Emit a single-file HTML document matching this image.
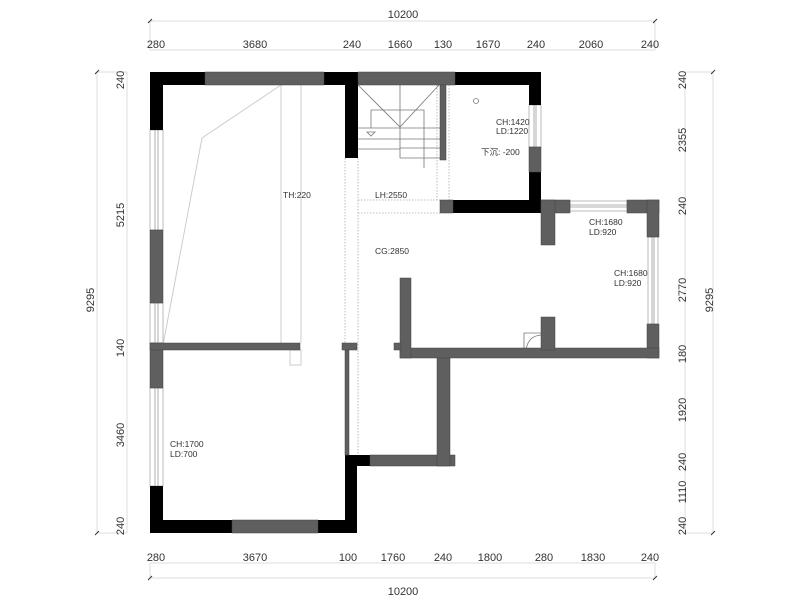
<!DOCTYPE html>
<html><head><meta charset="utf-8"><style>
html,body{margin:0;padding:0;background:#fff;}
svg{display:block;}
text{font-family:"Liberation Sans","Noto Sans CJK SC",sans-serif;fill:#333;}
.d{font-size:11px;fill:#444;}
.l{font-size:8.5px;fill:#222;font-family:"Liberation Sans Narrow","Liberation Sans","Noto Sans CJK SC",sans-serif;}
</style></head><body>
<svg width="800" height="600" viewBox="0 0 800 600" xmlns="http://www.w3.org/2000/svg">
<!-- dimension lines -->
<g stroke="#ddd" stroke-width="1" fill="none">
<line x1="150" y1="21" x2="655" y2="21"/>
<line x1="150" y1="50" x2="655" y2="50"/>
<line x1="150" y1="563" x2="655" y2="563"/>
<line x1="150" y1="578" x2="655" y2="578"/>
<line x1="97" y1="72" x2="97" y2="533"/>
<line x1="127" y1="72" x2="127" y2="533"/>
<line x1="685" y1="72" x2="685" y2="533"/>
<line x1="713" y1="72" x2="713" y2="533"/>
<line x1="97" y1="72" x2="127" y2="72"/>
<line x1="97" y1="533" x2="127" y2="533"/>
<line x1="685" y1="72" x2="713" y2="72"/>
<line x1="685" y1="533" x2="713" y2="533"/>
<line x1="150" y1="21" x2="150" y2="50"/>
<line x1="655" y1="21" x2="655" y2="50"/>
<line x1="150" y1="563" x2="150" y2="578"/>
<line x1="655" y1="563" x2="655" y2="578"/>
</g>
<g stroke="#333" stroke-width="1">
<line x1="148" y1="23" x2="152" y2="19"/><line x1="653" y1="23" x2="657" y2="19"/>
<line x1="148" y1="580" x2="152" y2="576"/><line x1="653" y1="580" x2="657" y2="576"/>
<line x1="95" y1="74" x2="99" y2="70"/><line x1="95" y1="535" x2="99" y2="531"/>
<line x1="711" y1="74" x2="715" y2="70"/><line x1="711" y1="535" x2="715" y2="531"/>
</g>
<g class="d" text-anchor="middle">
<text x="403" y="18">10200</text>
<text x="156" y="48">280</text><text x="255" y="48">3680</text><text x="352" y="48">240</text>
<text x="400" y="48">1660</text><text x="443" y="48">130</text><text x="488" y="48">1670</text>
<text x="536" y="48">240</text><text x="591" y="48">2060</text><text x="650" y="48">240</text>
<text x="156" y="561">280</text><text x="255" y="561">3670</text><text x="348" y="561">100</text>
<text x="393" y="561">1760</text><text x="443" y="561">240</text><text x="490" y="561">1800</text>
<text x="544" y="561">280</text><text x="593" y="561">1830</text><text x="650" y="561">240</text>
<text x="403" y="595">10200</text>
<text transform="translate(124,80) rotate(-90)">240</text>
<text transform="translate(124,215) rotate(-90)">5215</text>
<text transform="translate(124,348) rotate(-90)">140</text>
<text transform="translate(124,435) rotate(-90)">3460</text>
<text transform="translate(124,526) rotate(-90)">240</text>
<text transform="translate(94,300) rotate(-90)">9295</text>
<text transform="translate(686,80) rotate(-90)">240</text>
<text transform="translate(686,140) rotate(-90)">2355</text>
<text transform="translate(686,206) rotate(-90)">240</text>
<text transform="translate(686,290) rotate(-90)">2770</text>
<text transform="translate(686,354) rotate(-90)">180</text>
<text transform="translate(686,410) rotate(-90)">1920</text>
<text transform="translate(686,462) rotate(-90)">240</text>
<text transform="translate(686,492) rotate(-90)">1110</text>
<text transform="translate(686,526) rotate(-90)">240</text>
<text transform="translate(713,300) rotate(-90)">9295</text>
</g>
<!-- light lines left room -->
<g stroke="#ccc" stroke-width="1" fill="none">
<line x1="281" y1="85" x2="281" y2="343"/>
<line x1="301" y1="85" x2="301" y2="343"/>
<polyline points="281,85 202,138 163,345"/>
<rect x="290" y="350" width="11" height="15"/>
</g>
<!-- windows -->
<g stroke="#bbb" stroke-width="1" fill="#fff">
<rect x="150" y="130" width="13" height="100"/><rect x="150" y="303" width="13" height="40"/><rect x="150" y="388" width="13" height="98"/>
<rect x="529" y="105" width="12" height="42"/>
<rect x="570" y="201" width="57" height="10"/>
<rect x="648" y="237" width="10" height="87"/>
</g>
<g stroke="#999" stroke-width="0.8">
<line x1="155" y1="130" x2="155" y2="230"/><line x1="158" y1="130" x2="158" y2="230"/>
<line x1="155" y1="303" x2="155" y2="343"/><line x1="158" y1="303" x2="158" y2="343"/>
<line x1="155" y1="388" x2="155" y2="486"/><line x1="158" y1="388" x2="158" y2="486"/>
<line x1="534" y1="105" x2="534" y2="147"/><line x1="536" y1="105" x2="536" y2="147"/>
<line x1="570" y1="205" x2="627" y2="205"/><line x1="570" y1="207" x2="627" y2="207"/>
<line x1="652" y1="237" x2="652" y2="324"/><line x1="654" y1="237" x2="654" y2="324"/>
</g>
<!-- dotted lines -->
<g stroke="#aaa" stroke-width="0.8" stroke-dasharray="1.5,1.5" fill="none">
<line x1="345" y1="158" x2="345" y2="343"/>
<line x1="358" y1="158" x2="358" y2="455"/>
<line x1="358" y1="200" x2="440" y2="200"/>
<line x1="358" y1="213" x2="440" y2="213"/>
<line x1="437" y1="85" x2="437" y2="200"/>
<line x1="449" y1="85" x2="449" y2="200"/>
</g>
<!-- stairs -->
<g stroke="#777" stroke-width="0.8" fill="none">
<polyline points="358,85 400,127 439,85"/>
<line x1="400" y1="85" x2="400" y2="158"/>
<polyline points="371,128 371,110 424,110 424,168"/>
<line x1="358" y1="128" x2="440" y2="128"/>
<line x1="358" y1="139" x2="400" y2="139"/>
<line x1="358" y1="149" x2="400" y2="149"/>
<line x1="400" y1="139" x2="440" y2="139"/>
<line x1="400" y1="148" x2="440" y2="148"/>
<line x1="400" y1="158" x2="440" y2="158"/>
<path d="M367,132 h8 l-4,4 z"/>
<circle cx="476" cy="101" r="2.5"/>
<path d="M524,350 v-17 h17" />
<path d="M526,350 q2,-14 15,-15"/>
</g>
<!-- black walls -->
<g fill="#000">
<rect x="150" y="72" width="207" height="13"/>
<rect x="150" y="72" width="13" height="58"/>
<rect x="150" y="486" width="13" height="47"/>
<rect x="150" y="520" width="207" height="13"/>
<rect x="345" y="72" width="13" height="86"/>
<rect x="345" y="455" width="12" height="78"/>
<rect x="345" y="455" width="25" height="11"/>
<rect x="455" y="72" width="86" height="13"/>
<rect x="529" y="72" width="12" height="33"/>
<rect x="529" y="172" width="12" height="41"/>
<rect x="453" y="200" width="88" height="13"/>
</g>
<!-- gray walls -->
<g fill="#5f5f5f" stroke="#444" stroke-width="0.5">
<rect x="205" y="72" width="119" height="13"/>
<rect x="358" y="72" width="97" height="13"/>
<rect x="150" y="230" width="13" height="73"/>
<rect x="150" y="343" width="13" height="45"/>
<rect x="150" y="343" width="150" height="7"/>
<rect x="232" y="520" width="86" height="13"/>
<rect x="440" y="85" width="6" height="75"/>
<rect x="529" y="147" width="12" height="25"/>
<rect x="440" y="200" width="13" height="13"/>
<rect x="342" y="343" width="15" height="7"/>
<rect x="345" y="350" width="4" height="105"/>
<rect x="370" y="455" width="85" height="11"/>
<rect x="437" y="357" width="13" height="109"/>
<rect x="541" y="200" width="29" height="13"/>
<rect x="541" y="200" width="14" height="45"/>
<rect x="627" y="200" width="32" height="13"/>
<rect x="647" y="200" width="12" height="37"/>
<rect x="647" y="324" width="12" height="34"/>
<rect x="400" y="348" width="259" height="10"/>
<rect x="400" y="278" width="11" height="80"/>
<rect x="394" y="343" width="7" height="7"/>
<rect x="541" y="317" width="14" height="33"/>
</g>
<!-- labels -->
<g class="l">
<text x="283" y="198">TH:220</text>
<text x="375" y="198">LH:2550</text>
<text x="496" y="125">CH:1420</text>
<text x="496" y="134">LD:1220</text>
<text x="481" y="155">下沉: -200</text>
<text x="375" y="254">CG:2850</text>
<text x="589" y="225">CH:1680</text>
<text x="589" y="235">LD:920</text>
<text x="614" y="276">CH:1680</text>
<text x="614" y="286">LD:920</text>
<text x="170" y="447">CH:1700</text>
<text x="170" y="457">LD:700</text>
</g>
</svg>
</body></html>
